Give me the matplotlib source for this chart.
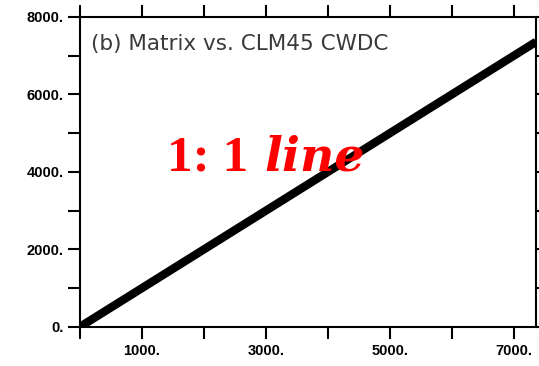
import numpy as np
import matplotlib
matplotlib.use("Agg")
import matplotlib.pyplot as plt
from matplotlib.ticker import MultipleLocator, FuncFormatter

# 1:1 line between the matrix and CLM45 CWDC
line_x = [0, 7360]
line_y = [0, 7360]
x_labels = [1000, 3000, 5000, 7000]
y_labels = [0, 2000, 4000, 6000, 8000]
title = "(b) Matrix vs. CLM45 CWDC"

fig = plt.figure(figsize=(5.39, 3.66), dpi=100)
ax = fig.add_axes([0.148, 0.1066, 0.8466, 0.847])

ax.plot(line_x, line_y, color="black", lw=6, solid_capstyle="butt")
ax.set_xlim(0, 7360)
ax.set_ylim(0, 8000)

ax.xaxis.set_major_locator(MultipleLocator(1000))
ax.yaxis.set_major_locator(MultipleLocator(1000))
ax.xaxis.set_major_formatter(FuncFormatter(lambda v, p: f"{int(v)}." if int(round(v)) in x_labels else ""))
ax.yaxis.set_major_formatter(FuncFormatter(lambda v, p: f"{int(v)}." if int(round(v)) in y_labels else ""))

ax.tick_params(direction="out", length=8.6, width=1.5, top=True, right=True,
               labelsize=10.5, pad=3)
ax.tick_params(axis="x", pad=4)
for lab in ax.get_xticklabels() + ax.get_yticklabels():
    lab.set_fontweight("bold")
    lab.set_family("Liberation Sans")
for s in ax.spines.values():
    s.set_linewidth(1.5)

ax.text(0.025, 0.912, title, transform=ax.transAxes, fontsize=15.5,
        color="#3a3a3a", family="DejaVu Sans", va="center", ha="left")

fig.text(0.31, 0.568, "1: 1", color="red", fontsize=37, fontweight="bold",
         family="Liberation Serif", va="center", ha="left")
fig.text(0.49, 0.57, "line", color="red", fontsize=34, fontweight="bold",
         style="italic", family="DejaVu Serif", va="center", ha="left")

fig.savefig("out.png", dpi=100)
